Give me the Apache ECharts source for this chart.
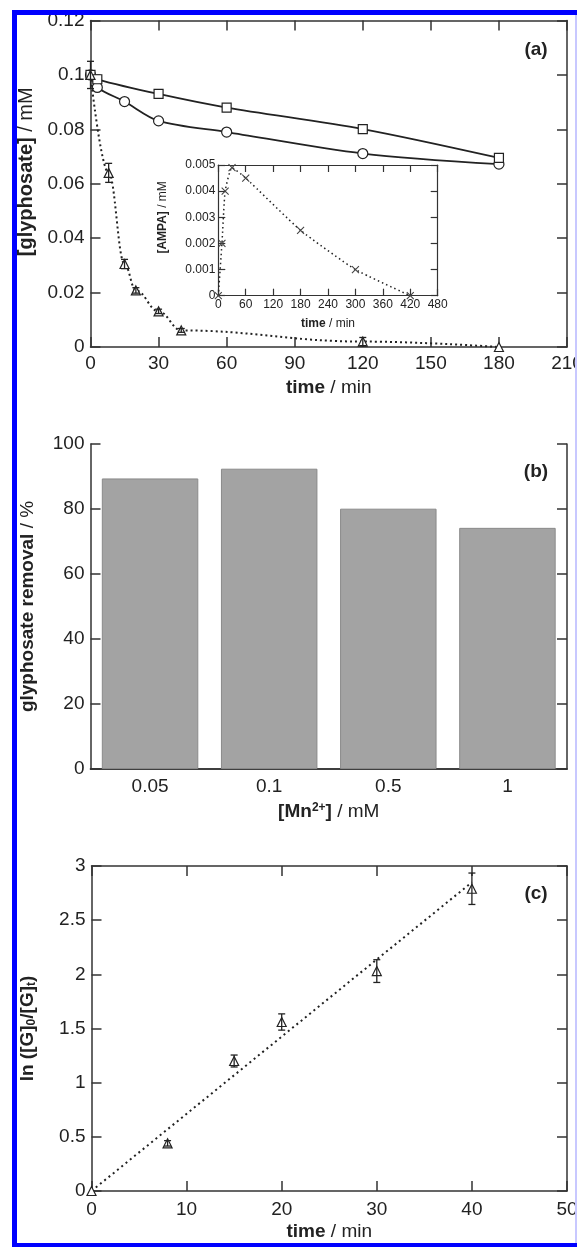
<!DOCTYPE html>
<html>
<head>
<meta charset="utf-8">
<script src="https://cdn.jsdelivr.net/npm/echarts@6/dist/echarts.min.js"></script>
<style>
  html, body { margin: 0; padding: 0; background: #fff; }
  #chart { width: 577px; height: 1247px; }
</style>
</head>
<body>
<div id="chart"></div>
<script>
// (a) glyphosate concentration vs time
const squareTime = [0, 3, 30, 60, 120, 180]
const squareConc = [0.1, 0.0984, 0.093, 0.088, 0.0801, 0.0695]
const circleTime = [0, 3, 15, 30, 60, 120, 180]
const circleConc = [0.1, 0.0954, 0.0902, 0.0831, 0.079, 0.0711, 0.0672]
const triTime = [0, 8, 15, 20, 30, 40, 120, 180]
const triConc = [0.1, 0.064, 0.0305, 0.0208, 0.0131, 0.0061, 0.002, 0]
const triErr = [0.005, 0.0035, 0.0017, 0.001, 0.0008, 0.0007, 0.0015, 0]

// (a) inset: AMPA vs time
const ampaTime = [0, 8, 15, 30, 60, 180, 300, 420]
const ampaConc = [0, 0.002, 0.004, 0.0049, 0.0045, 0.0025, 0.001, 0]

// (b) removal vs Mn2+
const mnLabels = ['0.05', '0.1', '0.5', '1']
const removal = [89.4, 92.4, 80.1, 74.2]

// (c) ln([G]0/[G]t) vs time
const lnTime = [0, 8, 15, 20, 30, 40]
const lnRatio = [0, 0.44, 1.2, 1.56, 2.03, 2.79]
const lnErr = [0, 0.025, 0.055, 0.075, 0.105, 0.145]
const fitTime = [0, 40]
const fitRatio = [0, 2.85]

const FONT = 'Liberation Sans'
const INK = '#222'
const LINE = '#333'

const pairs = (xs, ys) => xs.map((x, i) => [x, ys[i]])
const triples = (xs, ys, es) => xs.map((x, i) => [x, ys[i], es[i]]).filter(d => d[2] > 0)

// axis helper: main label axis or mirrored tick-only axis
function axis(gridIndex, position, min, max, interval, o = {}) {
  const small = o.small
  return {
    type: 'value',
    gridIndex,
    position,
    min,
    max,
    interval,
    splitLine: { show: false },
    axisLine: { show: true, onZero: false, lineStyle: { color: LINE, width: small ? 1.2 : 1.5 } },
    axisTick: { show: o.ticks !== false, inside: true, length: small ? 7 : 10, lineStyle: { color: LINE, width: small ? 1.2 : 1.5 } },
    axisLabel: {
      show: !!o.labels,
      color: INK,
      fontFamily: FONT,
      fontSize: small ? 12 : 19,
      margin: o.margin || 6,
    },
    name: o.name || '',
    nameLocation: 'middle',
    nameGap: o.nameGap || 40,
    nameTextStyle: {
      color: INK,
      fontFamily: FONT,
      fontSize: small ? 12 : 19,
      padding: o.namePadding || 0,
      rich: {
        b: { fontWeight: 'bold', fontFamily: FONT, fontSize: small ? 12 : (o.nameSize || 19), color: INK },
        n: { fontFamily: FONT, fontSize: small ? 12 : (o.nameSize || 19), color: INK },
        sup: { fontWeight: 'bold', fontFamily: FONT, fontSize: 12, color: INK, verticalAlign: 'top' },
        sub: { fontWeight: 'bold', fontFamily: FONT, fontSize: 12, color: INK, verticalAlign: 'bottom' },
      },
    },
  }
}

function renderErrorBar(params, api) {
  const x = api.value(0)
  const y = api.value(1)
  const e = api.value(2)
  const hi = api.coord([x, y + e])
  const lo = api.coord([x, y - e])
  const w = 3.5
  const style = { stroke: INK, lineWidth: 1.3 }
  return {
    type: 'group',
    children: [
      { type: 'line', shape: { x1: hi[0], y1: hi[1], x2: lo[0], y2: lo[1] }, style },
      { type: 'line', shape: { x1: hi[0] - w, y1: hi[1], x2: hi[0] + w, y2: hi[1] }, style },
      { type: 'line', shape: { x1: lo[0] - w, y1: lo[1], x2: lo[0] + w, y2: lo[1] }, style },
    ],
  }
}

const hollow = { color: '#fff', borderColor: INK, borderWidth: 1.2 }
const cross = 'path://M0,0L10,10M10,0L0,10'

const chart = echarts.init(document.getElementById('chart'), null, { renderer: 'canvas' })

chart.setOption({
  animation: false,
  backgroundColor: '#fff',
  grid: [
    { left: 90.5, top: 20.5, width: 476.5, height: 326.5, outerBoundsMode: 'none' },
    { left: 218.3, top: 165, width: 219.4, height: 130.7, outerBoundsMode: 'none', show: true, backgroundColor: '#fff', borderWidth: 0 },
    { left: 90.5, top: 444, width: 476.5, height: 325, outerBoundsMode: 'none' },
    { left: 91.5, top: 866, width: 475.5, height: 325, outerBoundsMode: 'none' },
  ],
  xAxis: [
    axis(0, 'bottom', 0, 210, 30, { labels: true, margin: 7, name: '{b|time}{n| / min}', nameGap: 31 }),
    axis(0, 'top', 0, 210, 30),
    axis(1, 'bottom', 0, 480, 60, { small: true, labels: true, margin: 3, name: '{b|time}{n| / min}', nameGap: 22 }),
    axis(1, 'top', 0, 480, 60, { small: true }),
    {
      type: 'category', gridIndex: 2, position: 'bottom', data: mnLabels,
      axisLine: { lineStyle: { color: LINE, width: 1.5 } },
      axisTick: { show: false },
      axisLabel: { color: INK, fontFamily: FONT, fontSize: 19, margin: 8 },
      name: '{b|[Mn}{sup|2+}{b|]}{n| / mM}', nameLocation: 'middle', nameGap: 33,
      nameTextStyle: {
        rich: {
          b: { fontWeight: 'bold', fontFamily: FONT, fontSize: 19, color: INK },
          n: { fontFamily: FONT, fontSize: 19, color: INK },
          sup: { fontWeight: 'bold', fontFamily: FONT, fontSize: 12, color: INK, verticalAlign: 'top' },
        },
      },
    },
    {
      type: 'category', gridIndex: 2, position: 'top', data: mnLabels,
      axisLine: { lineStyle: { color: LINE, width: 1.5 } },
      axisTick: { show: false },
      axisLabel: { show: false },
    },
    axis(3, 'bottom', 0, 50, 10, { labels: true, margin: 9, name: '{b|time}{n| / min}', nameGap: 31 }),
    axis(3, 'top', 0, 50, 10),
  ],
  yAxis: [
    axis(0, 'left', 0, 0.12, 0.02, { labels: true, name: '{b|[glyphosate]}{n| / mM}', nameGap: 51, nameSize: 20, namePadding: [0, 0, 0, 24] }),
    axis(0, 'right', 0, 0.12, 0.02),
    axis(1, 'left', 0, 0.005, 0.001, { small: true, labels: true, margin: 3, name: '{b|[AMPA]}{n| / mM}', nameGap: 50, namePadding: [0, 0, 0, 26] }),
    axis(1, 'right', 0, 0.005, 0.001, { small: true }),
    axis(2, 'left', 0, 100, 20, { labels: true, name: '{b|glyphosate removal}{n| / %}', nameGap: 53 }),
    axis(2, 'right', 0, 100, 20),
    axis(3, 'left', 0, 3, 0.5, { labels: true, name: '{b|ln ([G]}{sub|0}{b|/[G]}{sub|t}{b|)}', nameGap: 54 }),
    axis(3, 'right', 0, 3, 0.5),
  ],
  series: [
    {
      type: 'line', xAxisIndex: 0, yAxisIndex: 0, data: pairs(circleTime, circleConc),
      smooth: 0.3, symbol: 'circle', symbolSize: 10, showAllSymbol: true,
      lineStyle: { color: INK, width: 1.8 }, itemStyle: hollow, z: 3,
    },
    {
      type: 'line', xAxisIndex: 0, yAxisIndex: 0, data: pairs(squareTime, squareConc),
      smooth: 0.3, symbol: 'rect', symbolSize: 9, showAllSymbol: true,
      lineStyle: { color: INK, width: 1.8 }, itemStyle: hollow, z: 4,
    },
    {
      type: 'line', xAxisIndex: 0, yAxisIndex: 0, data: pairs(triTime, triConc),
      smooth: 0.4, smoothMonotone: 'x', symbol: 'triangle', symbolSize: 9, showAllSymbol: true,
      lineStyle: { color: INK, width: 2, type: [2, 3] }, itemStyle: hollow, z: 5,
    },
    {
      type: 'custom', xAxisIndex: 0, yAxisIndex: 0, renderItem: renderErrorBar,
      data: triples(triTime, triConc, triErr), encode: { x: 0, y: 1 }, z: 6,
    },
    {
      type: 'line', xAxisIndex: 2, yAxisIndex: 2, data: pairs(ampaTime, ampaConc),
      smooth: 0.15, symbol: cross, symbolSize: 7, showAllSymbol: true,
      lineStyle: { color: INK, width: 1.5, type: [1.5, 3] },
      itemStyle: { color: 'transparent', borderColor: '#444', borderWidth: 1.1 }, z: 7,
    },
    {
      type: 'bar', xAxisIndex: 4, yAxisIndex: 4, data: removal,
      barCategoryGap: '19%',
      itemStyle: { color: '#a3a3a3', borderColor: '#8a8a8a', borderWidth: 1 },
    },
    {
      type: 'line', xAxisIndex: 6, yAxisIndex: 6, data: pairs(fitTime, fitRatio),
      symbol: 'none', lineStyle: { color: INK, width: 2, type: [2, 3.5] }, z: 3,
    },
    {
      type: 'line', xAxisIndex: 6, yAxisIndex: 6, data: pairs(lnTime, lnRatio),
      symbol: 'triangle', symbolSize: 9, showAllSymbol: true,
      lineStyle: { width: 0, opacity: 0 }, itemStyle: hollow, z: 4,
    },
    {
      type: 'custom', xAxisIndex: 6, yAxisIndex: 6, renderItem: renderErrorBar,
      data: triples(lnTime, lnRatio, lnErr), encode: { x: 0, y: 1 }, z: 5,
    },
  ],
  graphic: [
    // blue frame of the figure
    { type: 'rect', shape: { x: 12, y: 10, width: 565, height: 5 }, style: { fill: '#0000ff' }, z: 100 },
    { type: 'rect', shape: { x: 12, y: 10, width: 5, height: 1237 }, style: { fill: '#0000ff' }, z: 100 },
    { type: 'rect', shape: { x: 12, y: 1243, width: 565, height: 4 }, style: { fill: '#0000ff' }, z: 100 },
    { type: 'rect', shape: { x: 575, y: 15, width: 2, height: 1228 }, style: { fill: '#c8c8ff' }, z: 100 },
    // panel letters
    { type: 'text', x: 536, y: 50, style: { text: '(a)', fill: INK, font: 'bold 19px "Liberation Sans"', align: 'center', verticalAlign: 'middle' }, z: 100 },
    { type: 'text', x: 536, y: 472, style: { text: '(b)', fill: INK, font: 'bold 19px "Liberation Sans"', align: 'center', verticalAlign: 'middle' }, z: 100 },
    { type: 'text', x: 536, y: 894, style: { text: '(c)', fill: INK, font: 'bold 19px "Liberation Sans"', align: 'center', verticalAlign: 'middle' }, z: 100 },
  ],
})
</script>
</body>
</html>
